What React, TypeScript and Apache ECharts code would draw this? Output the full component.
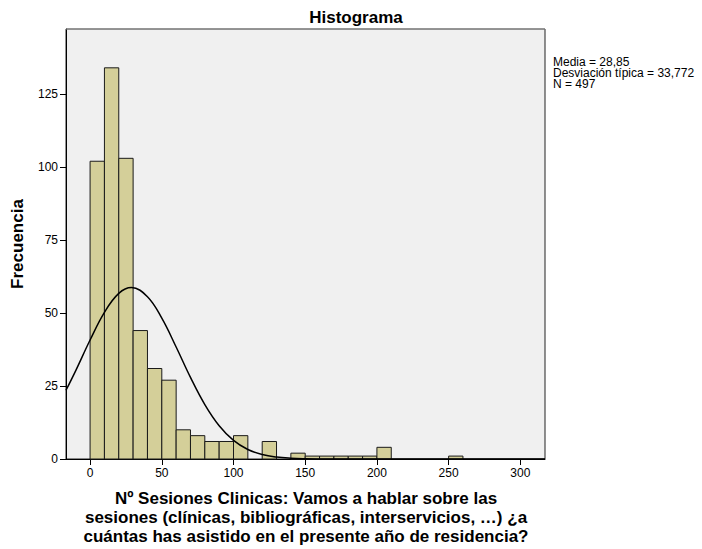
import React, { useEffect, useRef } from "react";
import * as echarts from "echarts";

const binStarts = [0, 10, 20, 30, 40, 50, 60, 70, 80, 90, 100, 110, 120, 130, 140, 150, 160, 170, 180, 190, 200, 250];
const binCounts = [102, 134, 103, 44, 31, 27, 10, 8, 6, 6, 8, 0, 6, 0, 2, 1, 1, 1, 1, 1, 4, 1];
const binWidth = 10;

const curveX = [-16.8, -10, 0, 10, 20, 28.85, 40, 50, 60, 70, 80, 90, 100, 110, 120, 130, 140, 150, 160, 170, 180, 200, 250, 317.2];
const curveY = [23.55, 30.29, 40.76, 50.24, 56.73, 58.71, 55.6, 48.25, 38.37, 27.95, 18.65, 11.4, 6.38, 3.27, 1.54, 0.66, 0.26, 0.09, 0.03, 0.01, 0, 0, 0, 0];

const xTicks = [0, 50, 100, 150, 200, 250, 300];
const yTicks = [0, 25, 50, 75, 100, 125];

const statsLines = ["Media = 28,85", "Desviación típica = 33,772", "N = 497"];
const xTitleLines = [
  "Nº Sesiones Clinicas: Vamos a hablar sobre las",
  "sesiones (clínicas, bibliográficas, interservicios, …) ¿a",
  "cuántas has asistido en el presente año de residencia?",
];

const FONT = "'Liberation Sans', Arial, sans-serif";

export default function App() {
  const ref = useRef<HTMLDivElement>(null);
  useEffect(() => {
    if (!ref.current) return;
    const chart = echarts.init(ref.current, null, { renderer: "svg" });
    const barData = binStarts.map((s, i) => [s, s + binWidth, binCounts[i]]).filter((d) => d[2] > 0);
    const curveData = curveX.map((x, i) => [x, curveY[i]]);
    chart.setOption({
      animation: false,
      backgroundColor: "#ffffff",
      textStyle: { fontFamily: FONT },
      title: {
        text: "Histograma",
        left: 351,
        textAlign: "center",
        top: 4,
        textStyle: { fontSize: 17, fontWeight: "bold", color: "#000", fontFamily: FONT },
      },
      grid: {
        left: 66,
        top: 29,
        right: 157,
        bottom: 90,
        containLabel: false,
        outerBoundsMode: "none",
        show: true,
        backgroundColor: "#f0f0f0",
        borderColor: "#222",
        borderWidth: 1,
      },
      xAxis: {
        type: "value",
        min: -16.8,
        max: 317.2,
        splitLine: { show: false },
        axisLine: { show: true, onZero: false, lineStyle: { color: "#000", width: 1 } },
        axisTick: { show: true, length: 6, customValues: xTicks, lineStyle: { color: "#000" } },
        axisLabel: { customValues: xTicks, color: "#000", fontSize: 12, margin: 8, fontFamily: FONT },
      },
      yAxis: {
        type: "value",
        min: 0,
        max: 147.3,
        splitLine: { show: false },
        axisLine: { show: true, onZero: false, lineStyle: { color: "#000", width: 1 } },
        axisTick: { show: true, length: 6, customValues: yTicks, lineStyle: { color: "#000" } },
        axisLabel: { customValues: yTicks, color: "#000", fontSize: 12, margin: 8, fontFamily: FONT },
        name: "Frecuencia",
        nameLocation: "middle",
        nameRotate: 90,
        nameGap: 40,
        nameTextStyle: { fontSize: 17, fontWeight: "bold", color: "#000", fontFamily: FONT },
      },
      series: [
        {
          type: "custom",
          data: barData,
          encode: { x: [0, 1], y: 2 },
          renderItem: (params: any, api: any) => {
            const x0 = api.value(0);
            const x1 = api.value(1);
            const h = api.value(2);
            const p0 = api.coord([x0, h]);
            const p1 = api.coord([x1, 0]);
            return {
              type: "rect",
              shape: { x: p0[0], y: p0[1], width: p1[0] - p0[0], height: p1[1] - p0[1] },
              style: { fill: "#d4cf99", stroke: "#1a1a1a", lineWidth: 1 },
            };
          },
          z: 2,
        },
        {
          type: "line",
          data: curveData,
          showSymbol: false,
          smooth: 0.4,
          clip: true,
          lineStyle: { color: "#000", width: 1.5 },
          z: 3,
        },
      ],
      graphic: [
        {
          type: "line",
          shape: { x1: 66, y1: 29, x2: 545, y2: 29 },
          style: { stroke: "#999", lineWidth: 1 },
          z: 10,
        },
        ...statsLines.map((t, i) => ({
          type: "text",
          left: 553,
          top: 56 + i * 11,
          style: { text: t, fontSize: 12, lineHeight: 11, fill: "#000", fontFamily: FONT },
        })),
        ...xTitleLines.map((t, i) => ({
          type: "text",
          x: 306,
          y: 498 + i * 19,
          style: {
            text: t,
            fontSize: 17,
            fontWeight: "bold",
            fill: "#000",
            fontFamily: FONT,
            textAlign: "center",
            textVerticalAlign: "middle",
          },
        })),
      ],
    });
    return () => chart.dispose();
  }, []);
  return <div ref={ref} style={{ position: "fixed", left: 0, top: 0, width: 702, height: 549 }} />;
}
